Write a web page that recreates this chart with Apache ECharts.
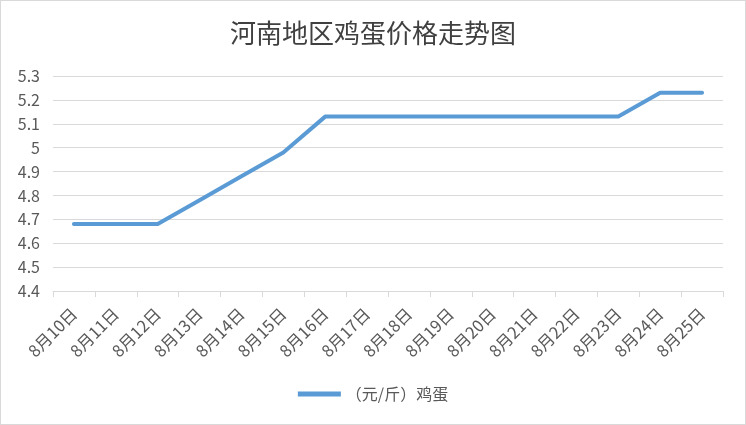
<!DOCTYPE html>
<html><head><meta charset="utf-8">
<script src="https://cdn.jsdelivr.net/npm/echarts@6/dist/echarts.min.js"></script>
<style>html,body{margin:0;padding:0;background:#fff}#c{width:746px;height:425px;box-sizing:border-box;border:1px solid #d9d9d9}</style>
</head><body><div id="c"></div>
<script>
const categories = ['8月10日','8月11日','8月12日','8月13日','8月14日','8月15日','8月16日','8月17日','8月18日','8月19日','8月20日','8月21日','8月22日','8月23日','8月24日','8月25日'];
const eggPrice = [4.68,4.68,4.68,4.78,4.88,4.98,5.13,5.13,5.13,5.13,5.13,5.13,5.13,5.13,5.23,5.23];
const seriesName = '（元/斤）鸡蛋';
const chart = echarts.init(document.getElementById('c'));
const font = '"Microsoft YaHei","Noto Sans CJK SC",sans-serif';
chart.setOption({
  animation:false,
  title:{text:'河南地区鸡蛋价格走势图',left:'center',top:14,textStyle:{fontFamily:font,fontSize:26,fontWeight:'normal',color:'#404040'}},
  grid:{left:52,right:22,top:75,bottom:133,containLabel:false},
  legend:{bottom:17,left:'center',itemWidth:43,itemHeight:5,itemGap:10,icon:'rect',textStyle:{fontFamily:font,fontSize:16,color:'#595959'},data:[seriesName]},
  xAxis:{type:'category',data:categories,boundaryGap:true,
    axisLine:{lineStyle:{color:'#d9d9d9'}},
    axisTick:{show:true,length:6,lineStyle:{color:'#d9d9d9'}},
    axisLabel:{rotate:45,interval:0,margin:20,fontFamily:font,fontSize:16.5,color:'#595959'}},
  yAxis:{type:'value',min:4.4,max:5.3,interval:0.1,
    axisLine:{show:false},axisTick:{show:false},
    splitLine:{lineStyle:{color:'#d9d9d9'}},
    axisLabel:{fontFamily:font,fontSize:16,color:'#595959',margin:13,formatter:v=>String(+v.toFixed(1))}},
  series:[{name:seriesName,type:'line',data:eggPrice,symbol:'none',lineStyle:{color:'#5b9bd5',width:4,cap:'round',join:'round'},itemStyle:{color:'#5b9bd5'}}]
});
</script></body></html>
